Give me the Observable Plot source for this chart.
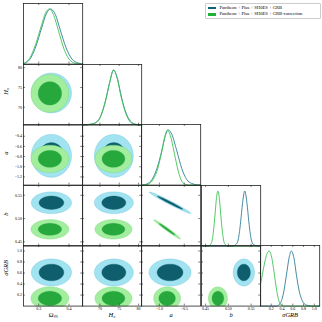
<!DOCTYPE html>
<html><head><meta charset="utf-8">
<script src="https://cdn.jsdelivr.net/npm/d3@7"></script>
<script src="https://cdn.jsdelivr.net/npm/@observablehq/plot@0.6"></script>
<style>
body{margin:0;background:#fff;}
#chart{position:relative;width:322px;height:322px;overflow:hidden;font-family:"Liberation Serif",serif;background:#fff;}
#chart svg{position:absolute;}
#legend{position:absolute;left:205px;top:3px;width:112px;padding:1px 0 1px 2px;border:0.6px solid #ccc;border-radius:1px;background:#fff;font-family:"Liberation Serif",serif;font-size:4.6px;line-height:6.2px;color:#000;white-space:nowrap;}
#legend span.sw{display:inline-block;width:7.5px;height:2.8px;margin-right:4px;vertical-align:middle;}
</style></head><body><div id="chart"></div><script>
// ---- data ----
const params = ["Ωₘ", "H₀", "a", "b", "σGRB"];
const paramItalic = [false, true, true, true, true];
const ranges = [[0.25, 0.445], [65.5, 80.8], [-1.36, -0.17], [0.441, 0.571], [0, 1.1]];
const xTicks = [[0.3, 0.4], [70, 75, 80], [-1.0, -0.5], [0.45, 0.50, 0.55], [0.2, 0.4, 0.6, 0.8, 1.0]];
const yTicks = [[0.3, 0.4], [70, 75, 80], [-1.2, -1.0, -0.8, -0.6, -0.4], [0.45, 0.50, 0.55], [0.2, 0.4, 0.6, 0.8, 1.0]];
const tickFormats = [".1f", "d", ".1f", ".2f", ".1f"];
const series = ["Pantheon + Plus + SH0ES + GRB", "Pantheon + Plus + SH0ES + GRB-correction"];

// 2D posterior summaries (centre, width, a–b correlation)
const meanBlue = [0.342, 73.6, -0.786, 0.534, 0.61];
const sigmaBlue = [0.027, 2.05, 0.172, 0.0095, 0.10];
const meanGreen = [0.337, 73.5, -0.845, 0.477, 0.14];
const sigmaGreen = [0.0255, 1.95, 0.110, 0.0085, 0.085];
const corrABBlue = -0.985;
const corrABGreen = -0.985;

// 1D marginal curves (parameter value, relative density)
const omBlue = [[0.25,0.01],[0.27,0.08],[0.29,0.31],[0.31,0.66],[0.325,0.91],[0.339,1.0],[0.355,0.90],[0.37,0.64],[0.39,0.30],[0.41,0.09],[0.43,0.02],[0.445,0.0]];
const omGreen = [[0.25,0.01],[0.27,0.10],[0.29,0.36],[0.31,0.72],[0.322,0.92],[0.335,1.0],[0.35,0.88],[0.365,0.61],[0.385,0.25],[0.405,0.06],[0.425,0.01],[0.445,0.0]];
const h0Blue = [[65.5,0],[68,0.02],[69.5,0.08],[70.5,0.22],[71.5,0.46],[72.5,0.77],[73.55,1.0],[74.5,0.85],[75.5,0.53],[76.5,0.27],[77.5,0.11],[79,0.02],[80.8,0]];
const h0Green = [[65.5,0],[68,0.02],[69.5,0.07],[70.5,0.21],[71.5,0.45],[72.5,0.76],[73.5,1.0],[74.5,0.84],[75.5,0.51],[76.5,0.25],[77.5,0.09],[79,0.01],[80.8,0]];
const aBlue = [[-1.36,0],[-1.25,0.02],[-1.15,0.10],[-1.05,0.30],[-0.95,0.63],[-0.88,0.90],[-0.82,1.0],[-0.75,0.92],[-0.65,0.62],[-0.55,0.30],[-0.45,0.10],[-0.35,0.03],[-0.25,0.005],[-0.17,0]];
const aGreen = [[-1.36,0],[-1.25,0.01],[-1.15,0.07],[-1.05,0.25],[-0.95,0.62],[-0.89,0.88],[-0.84,1.0],[-0.78,0.90],[-0.70,0.58],[-0.62,0.25],[-0.55,0.07],[-0.47,0.01],[-0.40,0],[-0.17,0]];
const bBlue = [[0.441,0],[0.51,0],[0.517,0.03],[0.522,0.13],[0.527,0.44],[0.531,0.77],[0.536,1.0],[0.541,0.77],[0.545,0.44],[0.55,0.13],[0.555,0.03],[0.565,0],[0.571,0]];
const bGreen = [[0.441,0],[0.455,0],[0.462,0.04],[0.467,0.25],[0.471,0.60],[0.474,0.88],[0.477,1.0],[0.48,0.88],[0.483,0.60],[0.487,0.25],[0.492,0.04],[0.50,0],[0.571,0]];
const sBlue = [[0,0],[0.30,0],[0.36,0.04],[0.42,0.20],[0.48,0.55],[0.53,0.87],[0.573,1.0],[0.62,0.88],[0.67,0.55],[0.72,0.27],[0.78,0.09],[0.85,0.02],[0.95,0],[1.1,0]];
const sGreen = [[0,0.39],[0.04,0.60],[0.08,0.80],[0.12,0.95],[0.16,1.0],[0.20,0.92],[0.24,0.70],[0.28,0.42],[0.32,0.18],[0.36,0.05],[0.40,0.01],[0.45,0],[1.1,0]];
const curvesBlue = [omBlue, h0Blue, aBlue, bBlue, sBlue];
const curvesGreen = [omGreen, h0Green, aGreen, bGreen, sGreen];

// ---- styling ----
const blueLight = "#a2e3f1", blueEdge = "#62c0d8", blueDark = "#0f5e6e";
const greenLight = "#a3ee9e", greenEdge = "#6fd56e", greenDark = "#27a83d";
const blueLine = "#2f7f96", greenLine = "#3fc452";
const level68 = Math.exp(-0.5 * 2.296), level95 = Math.exp(-0.5 * 5.991);

const left0 = 23, top0 = 3, pw = 59.2, ph = 60.6, N = 5;
const chart = document.getElementById("chart");

function gauss2(mean, sigma, i, j, rho) {
  return (x, y) => {
    const zx = (x - mean[j]) / sigma[j], zy = (y - mean[i]) / sigma[i];
    const q = (zx * zx - 2 * rho * zx * zy + zy * zy) / (1 - rho * rho);
    return Math.exp(-0.5 * q);
  };
}

for (let i = 0; i < N; i++) {
  for (let j = 0; j <= i; j++) {
    const diag = i === j;
    const mL = (j === 0 && !diag) ? 23 : 0;
    const mB = i === N - 1 ? 17 : 0;
    const marks = [];
    if (diag) {
      marks.push(Plot.line(curvesBlue[i], {x: "0", y: "1", stroke: blueLine, strokeWidth: 0.9, curve: "monotone-x"}));
      marks.push(Plot.line(curvesGreen[i], {x: "0", y: "1", stroke: greenLine, strokeWidth: 0.9, curve: "monotone-x"}));
    } else {
      const pair = (i === 3 && j === 2);
      const box = {x1: ranges[j][0], x2: ranges[j][1], y1: ranges[i][0], y2: ranges[i][1], pixelSize: 0.5};
      const vb = gauss2(meanBlue, sigmaBlue, i, j, pair ? corrABBlue : 0);
      const vg = gauss2(meanGreen, sigmaGreen, i, j, pair ? corrABGreen : 0);
      marks.push(Plot.contour({...box, value: vb, thresholds: [level95], fill: blueLight, stroke: blueEdge, strokeWidth: 0.4}));
      marks.push(Plot.contour({...box, value: vb, thresholds: [level68], fill: blueDark, stroke: blueDark, strokeWidth: 0.3}));
      marks.push(Plot.contour({...box, value: vg, thresholds: [level95], fill: greenLight, stroke: greenEdge, strokeWidth: 0.4}));
      marks.push(Plot.contour({...box, value: vg, thresholds: [level68], fill: greenDark, stroke: greenDark, strokeWidth: 0.3}));
      marks.push(Plot.tickY(yTicks[i], {y: d => d, insetRight: pw - 2, stroke: "#000", strokeWidth: 0.5}));
      marks.push(Plot.tickY(yTicks[i], {y: d => d, insetLeft: pw - 2, stroke: "#000", strokeWidth: 0.5}));
    }
    marks.push(Plot.tickX(xTicks[j], {x: d => d, insetTop: ph - 2, stroke: "#000", strokeWidth: 0.5}));
    marks.push(Plot.tickX(xTicks[j], {x: d => d, insetBottom: ph - 2, stroke: "#000", strokeWidth: 0.5}));
    marks.push(Plot.frame({stroke: "#222", strokeWidth: 0.8}));
    if (mL) {
      marks.push(Plot.axisY(yTicks[i], {tickSize: 0, tickPadding: 1.5, tickFormat: d3.format(tickFormats[i]), fontSize: 4, label: null}));
      marks.push(Plot.text([params[i]], {frameAnchor: "left", dx: -18, rotate: -90, fontSize: 6.5, fontStyle: paramItalic[i] ? "italic" : "normal"}));
    }
    if (mB) {
      marks.push(Plot.axisX(xTicks[j], {tickSize: 0, tickPadding: 1.5, tickFormat: d3.format(tickFormats[j]), fontSize: 4, label: null}));
      marks.push(Plot.text([params[j]], {frameAnchor: "bottom", dy: 11, fontSize: 6.5, fontStyle: paramItalic[j] ? "italic" : "normal"}));
    }
    const svg = Plot.plot({
      width: pw + mL, height: ph + mB,
      marginLeft: mL, marginRight: 0, marginTop: 0, marginBottom: mB,
      x: {domain: ranges[j], axis: null},
      y: {domain: diag ? [0, 1.1] : ranges[i], axis: null},
      style: {background: "transparent", overflow: "visible", fontFamily: "Liberation Serif, serif"},
      marks
    });
    svg.style.left = (left0 + j * pw - mL) + "px";
    svg.style.top = (top0 + i * ph) + "px";
    chart.appendChild(svg);
  }
}

// legend
const legend = document.createElement("div");
legend.id = "legend";
legend.innerHTML = series.map((s, k) => `<div><span class="sw" style="background:${k ? "#1db13a" : "#0f6473"}"></span>${s}</div>`).join("");
chart.appendChild(legend);
</script></body></html>
